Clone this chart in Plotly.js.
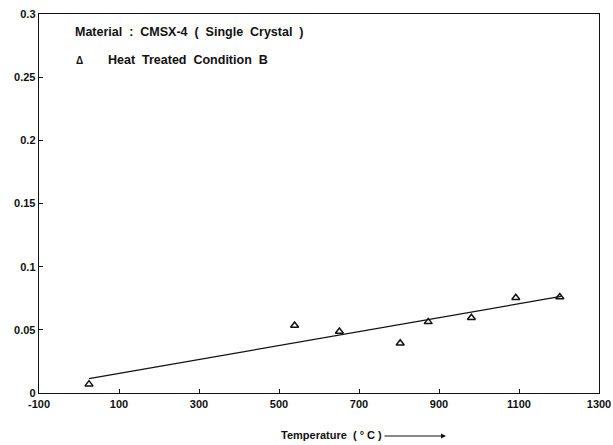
<!DOCTYPE html>
<html>
<head>
<meta charset="utf-8">
<script src="https://cdn.plot.ly/plotly-3.0.1.min.js"></script>
<style>html,body{margin:0;padding:0;background:#fff;}#chart{width:613px;height:445px;}</style>
</head>
<body>
<div id="chart"></div>
<script>
const temperature = [25, 539, 651, 803, 873, 981, 1092, 1202];
const values = [0.007, 0.0534, 0.0487, 0.0394, 0.0563, 0.0595, 0.0754, 0.0760];
const fitX = [25, 1205];
const fitY = [0.0114, 0.0764];
const xTicks = [-100, 100, 300, 500, 700, 900, 1100, 1300];
const yTicks = [0, 0.05, 0.1, 0.15, 0.2, 0.25, 0.3];
const yTickText = ['0', '0.05', '0.1', '0.15', '0.2', '0.25', '0.3'];

const fam = 'Liberation Sans, Arial, sans-serif';

const traces = [
  {x: fitX, y: fitY, mode: 'lines', line: {color: '#111', width: 1.3}, showlegend: false, hoverinfo: 'skip'},
  {x: temperature, y: values, mode: 'markers', showlegend: false,
   marker: {symbol: 'triangle-up-open', size: 7, color: '#111', line: {width: 1.5, color: '#111'}}}
];

const layout = {
  width: 613, height: 445,
  margin: {l: 39, r: 14, t: 14, b: 52},
  paper_bgcolor: '#fff', plot_bgcolor: '#fff',
  font: {family: fam, size: 11, color: '#111'},
  showlegend: false,
  xaxis: {
    range: [-100, 1300], tickvals: xTicks, ticktext: xTicks.map(String),
    showgrid: false, zeroline: false, showline: true, mirror: true,
    linecolor: '#111', linewidth: 1.3, ticks: 'inside', ticklen: 4, tickcolor: '#111',
    tickfont: {family: fam, size: 11, color: '#111', weight: 'bold'},
    title: {text: ''}
  },
  yaxis: {
    range: [0, 0.3], tickvals: yTicks, ticktext: yTickText,
    showgrid: false, zeroline: false, showline: true, mirror: true,
    linecolor: '#111', linewidth: 1.3, ticks: 'inside', ticklen: 4, tickcolor: '#111',
    tickfont: {family: fam, size: 11, color: '#111', weight: 'bold'},
    title: {text: ''}
  },
  annotations: [
    {xref: 'paper', yref: 'paper', x: (73-39)/560, y: (393-32)/379, xanchor: 'left', yanchor: 'middle',
     text: '<b>Material  :  CMSX-4  (  Single  Crystal  )</b>', showarrow: false,
     font: {family: fam, size: 12.5, color: '#111'}},
    {xref: 'paper', yref: 'paper', x: (74-39)/560, y: (393-60)/379, xanchor: 'left', yanchor: 'middle',
     text: '<b>Δ</b>', showarrow: false,
     font: {family: fam, size: 10, color: '#111'}},
    {xref: 'paper', yref: 'paper', x: (106-39)/560, y: (393-60)/379, xanchor: 'left', yanchor: 'middle',
     text: '<b>Heat  Treated  Condition  B</b>', showarrow: false,
     font: {family: fam, size: 12.5, color: '#111'}},
    {xref: 'paper', yref: 'paper', x: (279-39)/560, y: -(435-393)/379, xanchor: 'left', yanchor: 'middle',
     text: '<b>Temperature  ( ° C )</b>', showarrow: false,
     font: {family: fam, size: 11, color: '#111'}},
    {xref: 'paper', yref: 'paper', x: (446-39)/560, y: -(436-393)/379, ax: -(446-383), ay: 0,
     axref: 'pixel', ayref: 'pixel',
     text: '', showarrow: true, arrowhead: 2, arrowsize: 1, arrowwidth: 1, arrowcolor: '#111'}
  ]
};

Plotly.newPlot('chart', traces, layout, {displayModeBar: false, staticPlot: true});
</script>
</body>
</html>
